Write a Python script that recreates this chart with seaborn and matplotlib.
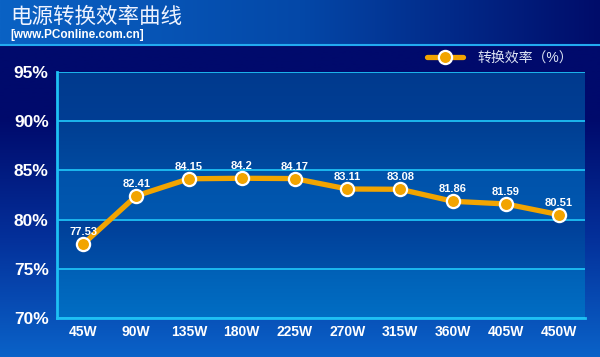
import numpy as np
import pandas as pd
import matplotlib
matplotlib.use("Agg")
import matplotlib.pyplot as plt
from matplotlib.colors import LinearSegmentedColormap
import seaborn as sns

# data
loads = ["45W", "90W", "135W", "180W", "225W", "270W", "315W", "360W", "405W", "450W"]
efficiency = [77.53, 82.41, 84.15, 84.2, 84.17, 83.11, 83.08, 81.86, 81.59, 80.51]
y_ticks = [70, 75, 80, 85, 90, 95]
title = "电源转换效率曲线"
subtitle = "[www.PConline.com.cn]"
series_name = "转换效率（%）"

sns.set_theme(style="white")
plt.rcParams['font.family'] = ['Liberation Sans', 'Noto Sans CJK SC', 'DejaVu Sans']

CYAN = "#1ec0f4"
ORANGE = "#f2a400"

df = pd.DataFrame({"pos": np.arange(len(loads)), "eff": efficiency})

fig = plt.figure(figsize=(6, 3.57), dpi=100)

# figure background: dark navy fading to blue at bottom
bg = fig.add_axes([0, 0, 1, 1], zorder=-10)
bg_cmap = LinearSegmentedColormap.from_list("bg", ["#0a62c8", "#04309a", "#000a6c", "#000a6c"])
grad = np.linspace(0, 1, 256).reshape(-1, 1)
bg.imshow(grad, aspect="auto", cmap=bg_cmap, extent=[0, 1, 0, 1], origin="lower")
# header band with horizontal gradient
head_cmap = LinearSegmentedColormap.from_list("head", ["#0a62c4", "#0448a8", "#000c6a"])
hgrad = np.linspace(0, 1, 256).reshape(1, -1)
bg.imshow(hgrad, aspect="auto", cmap=head_cmap, extent=[0, 1, 1 - 44 / 357, 1])
bg.axhline(1 - 44.5 / 357, color="#22aaf0", lw=1.5)
bg.set_xlim(0, 1)
bg.set_ylim(0, 1)
bg.axis("off")

ax = fig.add_axes([57 / 600, 1 - 318 / 357, 528 / 600, 246 / 357])
ax.set_facecolor("none")

# plot area bands
band_top = ["#003a8e", "#003e92", "#0052aa", "#003e98", "#0060b6"]
band_bot = ["#003e94", "#004aa0", "#0058b0", "#0050a8", "#006ec4"]
for i, lo in enumerate(y_ticks[:-1][::-1]):
    cm = LinearSegmentedColormap.from_list("b%d" % i, [band_bot[i], band_top[i]])
    ax.imshow(grad, aspect="auto", cmap=cm, extent=[-0.5, 9.5, lo, lo + 5],
              origin="lower", zorder=0)

sns.lineplot(data=df, x="pos", y="eff", ax=ax, color=ORANGE, lw=3.8,
             marker="o", markersize=9.5, markerfacecolor=ORANGE,
             markeredgecolor="white", markeredgewidth=1.6,
             label=series_name, zorder=5)

for x, y in zip(df["pos"], df["eff"]):
    ax.annotate(f"{y:g}", (x, y), xytext=(0, 5), textcoords="offset points",
                ha="center", va="bottom", color="white", fontsize=8,
                fontweight="bold", zorder=6)

ax.set_xlim(-0.5, 9.5)
ax.set_ylim(70, 95)
ax.set_yticks(y_ticks)
ax.set_yticklabels([f"{t}%" for t in y_ticks], color="white", fontsize=12.5,
                   fontweight="bold")
ax.set_xticks(df["pos"])
ax.set_xticklabels(loads, color="white", fontsize=10, fontweight="bold")
ax.set_xticks(np.arange(-0.5, 10, 1), minor=True)
ax.tick_params(axis="x", which="major", length=0, pad=5)
ax.tick_params(axis="x", which="minor", length=5, width=1.5, color=CYAN, direction="out")
ax.tick_params(axis="y", length=4, width=1.5, color=CYAN, direction="out", pad=2)
ax.set_xlabel("")
ax.set_ylabel("")
ax.grid(axis="y", color=CYAN, lw=1.3, zorder=1)
ax.set_axisbelow(False)
for s in ["top", "right"]:
    ax.spines[s].set_visible(False)
for s in ["left", "bottom"]:
    ax.spines[s].set_color(CYAN)
    ax.spines[s].set_linewidth(2)

leg = ax.legend(loc="lower right", bbox_to_anchor=(0.99, 1.0), frameon=False,
                fontsize=10, handlelength=2.6, handletextpad=1.0, borderaxespad=0.1)
for t in leg.get_texts():
    t.set_color("#dde4f4")

fig.text(10 / 600, 1 - 17 / 357, title, color="#eef3ff", fontsize=15.5,
         va="center", ha="left", family=["Noto Sans CJK SC", "DejaVu Sans"])
fig.text(10 / 600, 1 - 35 / 357, subtitle, color="white", fontsize=8.5,
         fontweight="bold", va="center", ha="left")

fig.savefig("out.png", dpi=100)
